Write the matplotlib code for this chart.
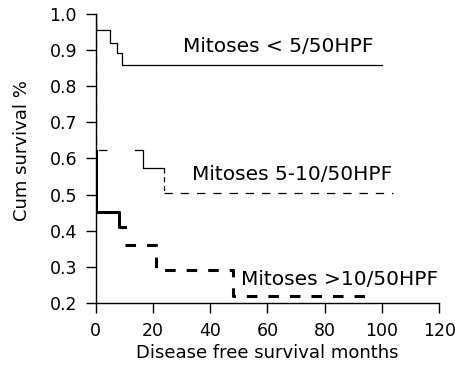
import matplotlib
matplotlib.use("Agg")
import matplotlib.pyplot as plt

plt.rcParams['font.family'] = ['DejaVu Sans']

# Mitoses < 5/50HPF (solid, thin)
low_t = [0, 0, 4.9, 7.3, 9.2, 100]
low_s = [1.0, 0.955, 0.92, 0.892, 0.858, 0.858]

# Mitoses 5-10/50HPF: dashed start, solid middle, dashed tail
mid_a_t = [4.0, 0, 0]
mid_a_s = [0.622, 0.622, 1.0]
mid_b_t = [13.6, 16.6, 23.8]
mid_b_s = [0.622, 0.573, 0.573]
mid_c_t = [23.8, 104]
mid_c_s = [0.505, 0.505]

# Mitoses >10/50HPF (thick): solid start, dashed remainder
high_a_t = [0, 0, 8.1, 10.2]
high_a_s = [0.62, 0.453, 0.41, 0.41]
high_b_t = [10.2, 21, 48, 95]
high_b_s = [0.36, 0.292, 0.218, 0.218]

xticks = [0, 20, 40, 60, 80, 100, 120]
yticks = [0.2, 0.3, 0.4, 0.5, 0.6, 0.7, 0.8, 0.9, 1.0]

fig = plt.figure(figsize=(4.56, 3.65), dpi=100)
ax = fig.add_axes([0.21, 0.170, 0.753, 0.792])

thin_dash = (6.7, 6.3)
thick_dash = (3.45, 3.6)

ax.step(low_t, low_s, where='post', color='black', lw=0.9)
ax.plot(mid_a_t, mid_a_s, color='black', lw=0.9, dashes=thin_dash)
ax.step(mid_b_t, mid_b_s, where='post', color='black', lw=0.9)
ax.plot([mid_b_t[-1], mid_b_t[-1]], [mid_b_s[-1], mid_c_s[0]], color='black', lw=0.9, dashes=(4, 3))
ax.step(mid_c_t, mid_c_s, where='post', color='black', lw=0.9, dashes=thin_dash)
ax.step(high_a_t, high_a_s, where='post', color='black', lw=2.2)
ax.step(high_b_t, high_b_s, where='post', color='black', lw=2.2, dashes=thick_dash)

ax.text(30.4, 0.894, 'Mitoses < 5/50HPF', fontsize=14.5, va='baseline')
ax.text(33.8, 0.54, 'Mitoses 5-10/50HPF', fontsize=14.5, va='baseline')
ax.text(50.6, 0.249, 'Mitoses >10/50HPF', fontsize=14.5, va='baseline')

ax.set_xlim(0, 120)
ax.set_ylim(0.2, 1.0)
ax.set_xticks(xticks)
ax.set_yticks(yticks)
ax.set_yticklabels([f'{v:.1f}' for v in yticks])
ax.spines['top'].set_visible(False)
ax.spines['right'].set_visible(False)
ax.spines['left'].set_linewidth(1.0)
ax.spines['bottom'].set_linewidth(1.0)
ax.tick_params(direction='out', length=7.5, width=1, pad=6, labelsize=12.5, colors='black')
ax.set_xlabel('Disease free survival months', fontsize=13, labelpad=3)
ax.set_ylabel('Cum survival %', fontsize=13)
ax.yaxis.set_label_coords(-0.19, 0.526)

fig.savefig('out.png', dpi=100)
